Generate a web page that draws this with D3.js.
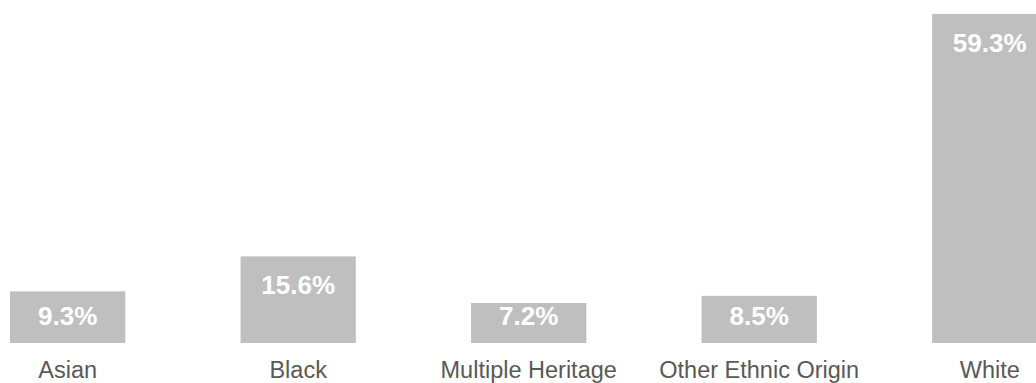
<!DOCTYPE html>
<html>
<head>
<meta charset="utf-8">
<script src="https://cdn.jsdelivr.net/npm/d3@7"></script>
<style>
  body { margin: 0; background: #fff; }
  svg { display: block; font-family: "Liberation Sans", Arial, sans-serif; }
</style>
</head>
<body>
<div id="chart"></div>
<script>
const categories = ["Asian", "Black", "Multiple Heritage", "Other Ethnic Origin", "White"];
const values = [9.3, 15.6, 7.2, 8.5, 59.3];
const valueLabels = ["9.3%", "15.6%", "7.2%", "8.5%", "59.3%"];

const width = 1036, height = 383;
const baseY = 343;

const svg = d3.select("#chart").append("svg")
  .attr("width", width)
  .attr("height", height);

const x = d3.scaleBand()
  .domain(categories)
  .range([-47.6, 1105])
  .paddingInner(0.5)
  .paddingOuter(0.25);

const y = d3.scaleLinear()
  .domain([0, 60])
  .range([baseY, 10]);

const data = categories.map((c, i) => ({cat: c, v: values[i], label: valueLabels[i]}));

// bars
svg.selectAll("rect.bar")
  .data(data)
  .join("rect")
  .attr("class", "bar")
  .attr("x", d => x(d.cat))
  .attr("y", d => y(d.v))
  .attr("width", x.bandwidth())
  .attr("height", d => y(0) - y(d.v))
  .attr("fill", "#bfbfbf");

// value labels, kept inside the bar
svg.selectAll("text.val")
  .data(data)
  .join("text")
  .attr("class", "val")
  .attr("x", d => x(d.cat) + x.bandwidth() / 2)
  .attr("y", d => Math.min(y(d.v) + 38, baseY - 18))
  .attr("text-anchor", "middle")
  .attr("fill", "#fff")
  .attr("font-weight", "bold")
  .attr("font-size", "26px")
  .text(d => d.label);

// category axis
const xAxis = svg.append("g")
  .attr("transform", "translate(0," + baseY + ")")
  .call(d3.axisBottom(x).tickSize(0).tickPadding(0));

xAxis.select(".domain").remove();
xAxis.selectAll("text")
  .attr("y", 35)
  .attr("dy", null)
  .attr("fill", "#595959")
  .style("font-family", "Liberation Sans, Arial, sans-serif")
  .style("font-size", "23.5px");
</script>
</body>
</html>
